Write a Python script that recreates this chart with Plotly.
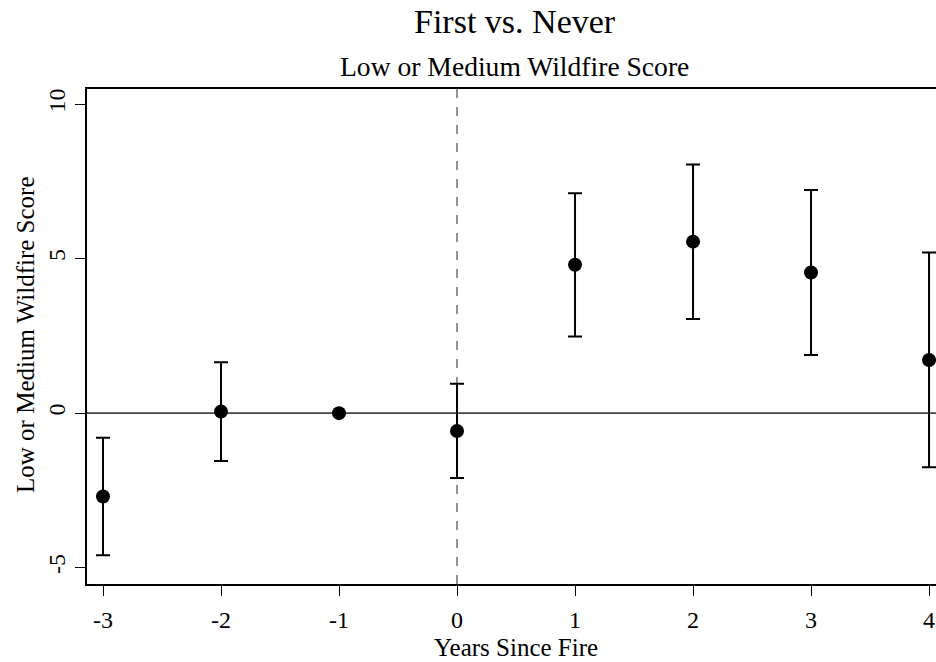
import plotly.graph_objects as go

years = [-3, -2, -1, 0, 1, 2, 3, 4]
estimates = [-2.70, 0.05, 0.0, -0.58, 4.80, 5.55, 4.55, 1.72]
ci_low = [-4.60, -1.55, 0.0, -2.10, 2.48, 3.05, 1.88, -1.75]
ci_high = [-0.80, 1.65, 0.0, 0.95, 7.12, 8.05, 7.22, 5.20]
x_ticks = [-3, -2, -1, 0, 1, 2, 3, 4]
y_ticks = [-5, 0, 5, 10]

err_plus = [h - e for h, e in zip(ci_high, estimates)]
err_minus = [e - l for e, l in zip(estimates, ci_low)]
has_err = [h != l for h, l in zip(ci_high, ci_low)]

FONT = "Liberation Serif, Times New Roman, serif"

# plot area in pixels
L, R, T, B = 87, 936, 89, 584
PW, PH = R - L, B - T


def px(xp):
    return (xp - L) / PW


def py(yp):
    return (B - yp) / PH


fig = go.Figure()
fig.add_trace(go.Scatter(
    x=years, y=estimates, mode="markers",
    marker=dict(color="black", size=14),
    error_y=dict(type="data", symmetric=False,
                 array=[p if h else None for p, h in zip(err_plus, has_err)],
                 arrayminus=[m if h else None for m, h in zip(err_minus, has_err)],
                 color="black", thickness=2, width=7),
    showlegend=False, cliponaxis=False,
))

fig.add_shape(type="line", xref="paper", yref="y", x0=0, x1=1, y0=0, y1=0,
              line=dict(color="#444444", width=1.6), layer="below")
fig.add_shape(type="line", xref="x", yref="paper", x0=0, x1=0, y0=0, y1=1,
              line=dict(color="#888888", width=1.8, dash="dash"), layer="below")

fig.update_layout(
    width=936, height=662,
    margin=dict(l=L, r=936 - R, t=T, b=662 - B),
    paper_bgcolor="white", plot_bgcolor="white",
    font=dict(family=FONT, color="black", size=24),
    xaxis=dict(range=[-3.1356, 4.059], tickvals=x_ticks,
               ticktext=[str(v) for v in x_ticks],
               showgrid=False, zeroline=False, showline=True,
               linecolor="black", linewidth=2, mirror=True,
               ticks="outside", ticklen=10, tickwidth=1.2, tickcolor="black",
               ticklabelstandoff=3,
               tickfont=dict(size=24, family=FONT)),
    yaxis=dict(range=[-5.53, 10.49], tickvals=y_ticks,
               ticktext=[str(v) for v in y_ticks],
               showgrid=False, zeroline=False, showline=True,
               linecolor="black", linewidth=2,
               ticks="outside", ticklen=10, tickwidth=1.2, tickcolor="black",
               tickangle=-90, tickfont=dict(size=24, family=FONT)),
    annotations=[
        dict(text="First vs. Never", x=px(515), y=py(21), xref="paper", yref="paper",
             xanchor="center", yanchor="middle", showarrow=False,
             font=dict(size=34, family=FONT)),
        dict(text="Low or Medium Wildfire Score", x=px(514), y=py(67), xref="paper", yref="paper",
             xanchor="center", yanchor="middle", showarrow=False,
             font=dict(size=27.6, family=FONT)),
        dict(text="Years Since Fire", x=px(516), y=py(647), xref="paper", yref="paper",
             xanchor="center", yanchor="middle", showarrow=False,
             font=dict(size=25, family=FONT)),
        dict(text="Low or Medium Wildfire Score", x=px(25), y=py(335), xref="paper", yref="paper",
             xanchor="center", yanchor="middle", showarrow=False, textangle=-90,
             font=dict(size=25, family=FONT)),
    ],
)

fig.write_html("out.html")
